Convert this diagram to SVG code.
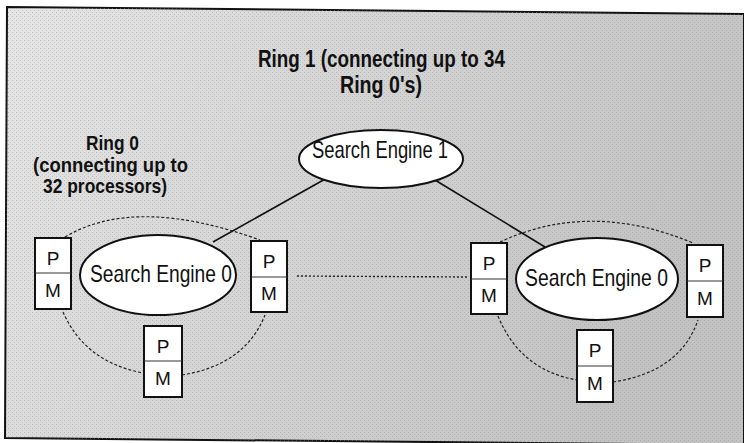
<svg xmlns="http://www.w3.org/2000/svg" width="744" height="443" viewBox="0 0 744 443">
<defs>
<linearGradient id="bg" x1="0" y1="0" x2="1" y2="0.3">
<stop offset="0" stop-color="#e6e6e6"/>
<stop offset="0.5" stop-color="#d4d4d4"/>
<stop offset="1" stop-color="#c2c2c2"/>
</linearGradient>
<pattern id="dots" width="4" height="4" patternUnits="userSpaceOnUse">
<rect x="0" y="0" width="1" height="1" fill="#9a9a9a" fill-opacity="0.5"/>
<rect x="2" y="2" width="1" height="1" fill="#9a9a9a" fill-opacity="0.4"/>
</pattern>
</defs>
<style>
.lbl{font-family:"Liberation Sans Narrow","Liberation Sans",Arial,sans-serif;font-weight:bold;fill:#111;text-anchor:middle}
.se{font-family:"Liberation Sans Narrow","Liberation Sans",Arial,sans-serif;font-size:24px;fill:#111;text-anchor:middle}
.pm{font-family:"Liberation Sans","Arial",sans-serif;font-size:19px;fill:#111;text-anchor:middle}
.ell{fill:#ffffff;stroke:#111;stroke-width:2}
.box{fill:#ffffff;stroke:#111;stroke-width:2}
.div{stroke:#333;stroke-width:1}
.line{stroke:#111;stroke-width:1.6;fill:none}
.ring{stroke:#222;stroke-width:1.2;fill:none;stroke-dasharray:3 2}
.dot{stroke:#222;stroke-width:1.4;fill:none;stroke-dasharray:2 2}
</style>
<rect x="0" y="0" width="744" height="443" fill="#ffffff"/>
<polygon points="7,7 744,14 744,445 5,438" fill="url(#bg)" stroke="#111" stroke-width="2"/>
<polygon points="7,7 744,14 744,445 5,438" fill="url(#dots)"/>

<g id="connectors">
<line class="line" x1="327" y1="178" x2="213" y2="242"/>
<line class="line" x1="435" y1="180" x2="545" y2="247"/>
<line class="dot" x1="297" y1="276" x2="467" y2="277"/>
<path class="ring" d="M65,237 Q135,195 260,240"/>
<path class="ring" d="M63,312 Q85,362 143,373"/>
<path class="ring" d="M182,375 Q245,365 265,315"/>
<path class="ring" d="M500,242 Q590,200 693,243"/>
<path class="ring" d="M498,316 Q520,370 577,380"/>
<path class="ring" d="M613,382 Q680,372 698,320"/>
</g>

<g id="ring1-label">
<text class="lbl" x="381.5" y="67" font-size="23" textLength="247" lengthAdjust="spacingAndGlyphs">Ring 1 (connecting up to 34</text>
<text class="lbl" x="381" y="93" font-size="23" textLength="82" lengthAdjust="spacingAndGlyphs">Ring 0's)</text>
</g>

<g id="ring0-label">
<text class="lbl" x="112.5" y="150" font-size="21" textLength="53" lengthAdjust="spacingAndGlyphs">Ring 0</text>
<text class="lbl" x="110.5" y="172" font-size="21" textLength="155" lengthAdjust="spacingAndGlyphs">(connecting up to</text>
<text class="lbl" x="105" y="193" font-size="21" textLength="124" lengthAdjust="spacingAndGlyphs">32 processors)</text>
</g>

<g id="se1">
<ellipse class="ell" cx="381" cy="159" rx="82" ry="29"/>
<text class="se" x="380" y="158" textLength="136" lengthAdjust="spacingAndGlyphs">Search Engine 1</text>
</g>

<g id="se0-left">
<ellipse class="ell" cx="158" cy="275" rx="78" ry="40"/>
<text class="se" x="161" y="282" textLength="142" lengthAdjust="spacingAndGlyphs">Search Engine 0</text>
</g>

<g id="se0-right">
<ellipse class="ell" cx="597" cy="279" rx="81" ry="41"/>
<text class="se" x="596.5" y="286" textLength="143" lengthAdjust="spacingAndGlyphs">Search Engine 0</text>
</g>

<g id="pm-l1">
<rect class="box" x="35" y="238" width="36" height="71"/>
<line class="div" x1="35" y1="273" x2="71" y2="273"/>
<text class="pm" x="53" y="265">P</text>
<text class="pm" x="53" y="297">M</text>
</g>
<g id="pm-l2">
<rect class="box" x="251" y="241" width="36" height="71"/>
<line class="div" x1="251" y1="277" x2="287" y2="277"/>
<text class="pm" x="269" y="268">P</text>
<text class="pm" x="269" y="300">M</text>
</g>
<g id="pm-l3">
<rect class="box" x="144" y="326" width="38" height="71"/>
<line class="div" x1="144" y1="361" x2="182" y2="361"/>
<text class="pm" x="163" y="353">P</text>
<text class="pm" x="163" y="385">M</text>
</g>
<g id="pm-r1">
<rect class="box" x="471" y="243" width="36" height="71"/>
<line class="div" x1="471" y1="279" x2="507" y2="279"/>
<text class="pm" x="489" y="270">P</text>
<text class="pm" x="489" y="302">M</text>
</g>
<g id="pm-r2">
<rect class="box" x="687" y="245" width="36" height="72"/>
<line class="div" x1="687" y1="281" x2="723" y2="281"/>
<text class="pm" x="705" y="272">P</text>
<text class="pm" x="705" y="305">M</text>
</g>
<g id="pm-r3">
<rect class="box" x="577" y="330" width="36" height="72"/>
<line class="div" x1="577" y1="366" x2="613" y2="366"/>
<text class="pm" x="595" y="357">P</text>
<text class="pm" x="595" y="390">M</text>
</g>
</svg>
